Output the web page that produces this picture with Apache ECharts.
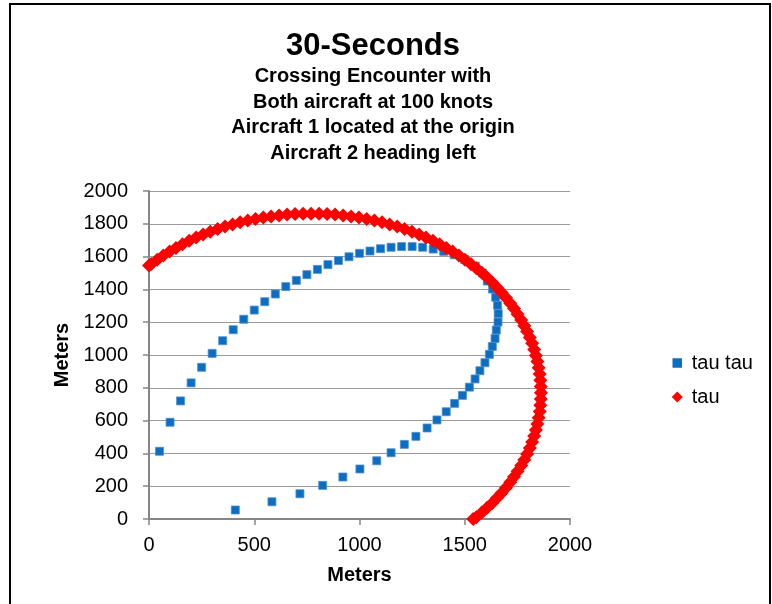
<!DOCTYPE html>
<html>
<head>
<meta charset="utf-8">
<script src="https://cdn.jsdelivr.net/npm/echarts@6/dist/echarts.min.js"></script>
<style>
  html, body { margin: 0; padding: 0; background: #fff; }
  #chart { position: absolute; left: 0; top: 0; width: 772px; height: 604px; }
  #frame { position: absolute; left: 9px; top: 3px; width: 758px; height: 620px; border: 2px solid #000; pointer-events: none; }
</style>
</head>
<body>
<div id="chart"></div>
<div id="frame"></div>
<script>
const titleText = '30-Seconds';
const subtitleLines = ['Crossing Encounter with', 'Both aircraft at 100 knots', 'Aircraft 1 located at the origin', 'Aircraft 2 heading left'];
const xAxisName = 'Meters';
const yAxisName = 'Meters';
const seriesNames = ['tau tau', 'tau'];

// Blue squares: "tau tau"
const tauTauPoints = [
  [50, 413], [100, 590], [150, 720], [200, 830], [250, 925], [300, 1010], [350, 1087], [400, 1154],
  [450, 1218], [500, 1274], [550, 1325], [600, 1372], [650, 1417], [700, 1455], [750, 1490], [800, 1522],
  [850, 1551], [900, 1576], [950, 1599], [1000, 1620], [1050, 1634], [1100, 1648], [1150, 1657], [1200, 1661],
  [1250, 1661], [1300, 1657], [1350, 1646], [1400, 1632], [1450, 1611], [1500, 1582], [1550, 1542],
  [1585, 1500], [1607, 1451], [1632, 1402], [1647, 1352], [1656, 1303], [1659, 1252], [1658, 1201],
  [1650, 1152], [1644, 1101], [1631, 1052], [1617, 1004], [1596, 953], [1572, 904], [1549, 854], [1522, 804],
  [1489, 754], [1452, 705], [1412, 654], [1368, 604], [1321, 555], [1268, 504], [1213, 455], [1150, 404],
  [1082, 355], [1002, 305], [921, 256], [825, 205], [717, 154], [584, 105], [410, 55]
];

// Red diamonds: "tau"
const tauPoints = [
  [0, 1545], [11, 1555], [39, 1581], [68, 1606], [98, 1631], [128, 1653], [159, 1675], [191, 1696],
  [224, 1716], [257, 1734], [291, 1751], [326, 1768], [361, 1783], [397, 1796], [433, 1809], [469, 1820],
  [506, 1830], [543, 1838], [580, 1845], [618, 1851], [656, 1856], [694, 1859], [732, 1861], [770, 1862],
  [808, 1861], [846, 1859], [884, 1856], [922, 1851], [960, 1845], [997, 1838], [1034, 1830], [1071, 1820],
  [1107, 1809], [1143, 1796], [1179, 1783], [1214, 1768], [1249, 1751], [1283, 1734], [1316, 1716], [1349, 1696],
  [1381, 1675], [1412, 1653], [1442, 1631], [1472, 1606], [1501, 1581], [1529, 1555], [1555, 1529], [1581, 1501],
  [1606, 1472], [1631, 1442], [1653, 1412], [1675, 1381], [1696, 1349], [1716, 1316], [1734, 1283], [1751, 1249],
  [1768, 1214], [1783, 1179], [1796, 1143], [1809, 1107], [1820, 1071], [1830, 1034], [1838, 997], [1845, 960],
  [1851, 922], [1856, 884], [1859, 846], [1861, 808], [1862, 770], [1861, 732], [1859, 694], [1856, 656],
  [1851, 618], [1845, 580], [1838, 543], [1830, 506], [1820, 469], [1809, 433], [1796, 397], [1783, 361],
  [1768, 326], [1751, 291], [1734, 257], [1716, 224], [1696, 191], [1675, 159], [1653, 128], [1631, 98],
  [1606, 68], [1581, 39], [1555, 11], [1540, 0]
];

const xRange = [0, 2000, 500];
const yRange = [0, 2000, 200];

const FONT = "'Liberation Sans', Arial, sans-serif";
const plain = v => String(v);
const chart = echarts.init(document.getElementById('chart'), null, { renderer: 'canvas' });
chart.setOption({
  animation: false,
  backgroundColor: '#fff',
  textStyle: { fontFamily: FONT, color: '#000' },
  title: [
    { text: titleText, left: 368, top: 26, textAlign: 'center',
      textStyle: { fontFamily: FONT, fontSize: 31, fontWeight: 'bold', color: '#000' } },
    { text: subtitleLines.join('\n'), left: 368, top: 59, textAlign: 'center',
      textStyle: { fontFamily: FONT, fontSize: 20, fontWeight: 'bold', color: '#000', lineHeight: 25.5 } }
  ],
  legend: {
    orient: 'vertical', left: 671, top: 353, padding: 0, itemGap: 14, itemWidth: 11, itemHeight: 11,
    textStyle: { fontFamily: FONT, fontSize: 20, color: '#000', padding: [0, 0, 0, 4] },
    data: [
      { name: seriesNames[0], icon: 'rect', itemStyle: { borderWidth: 1.5, borderColor: '#fff' } },
      { name: seriesNames[1], icon: 'diamond' }
    ]
  },
  grid: { left: 149, right: 202, top: 191, bottom: 85 },
  xAxis: {
    type: 'value', min: xRange[0], max: xRange[1], interval: xRange[2],
    name: xAxisName, nameLocation: 'middle', nameGap: 46,
    nameTextStyle: { fontFamily: FONT, fontSize: 20, fontWeight: 'bold', color: '#000' },
    axisLine: { show: true, lineStyle: { color: '#868686', width: 2 } },
    axisTick: { show: true, inside: false, length: 6, lineStyle: { color: '#868686', width: 1.5 } },
    axisLabel: { fontFamily: FONT, fontSize: 20, color: '#000', margin: 16, formatter: plain },
    splitLine: { show: false }
  },
  yAxis: {
    type: 'value', min: yRange[0], max: yRange[1], interval: yRange[2],
    name: yAxisName, nameLocation: 'middle', nameGap: 77, nameRotate: 90,
    nameTextStyle: { fontFamily: FONT, fontSize: 20, fontWeight: 'bold', color: '#000' },
    axisLine: { show: true, lineStyle: { color: '#868686', width: 2 } },
    axisTick: { show: true, inside: false, length: 6, lineStyle: { color: '#868686', width: 1.5 } },
    axisLabel: { fontFamily: FONT, fontSize: 20, color: '#000', margin: 21, formatter: plain },
    splitLine: { show: true, lineStyle: { color: '#9a9a9a', width: 1.2 } }
  },
  series: [
    { name: seriesNames[0], type: 'scatter', data: tauTauPoints, symbol: 'rect', symbolSize: 8, clip: false,
      itemStyle: { color: '#0B6EC1', borderColor: '#4F8FD0', borderWidth: 0.8, opacity: 1 } },
    { name: seriesNames[1], type: 'scatter', data: tauPoints, symbol: 'diamond', symbolSize: 14, clip: false,
      itemStyle: { color: '#FF0000', opacity: 1 } }
  ]
});
</script>
</body>
</html>
